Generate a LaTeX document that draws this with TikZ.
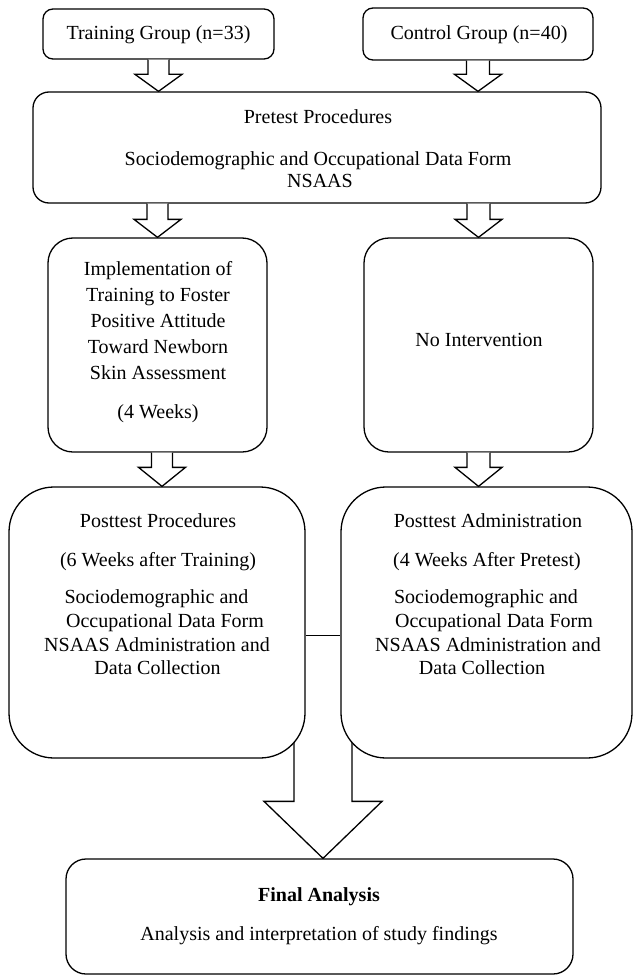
\documentclass[tikz,border=0pt]{standalone}
\usepackage{fontspec}
\setmainfont{Liberation Serif}
\usetikzlibrary{calc,backgrounds}
\tikzset{blk/.style={draw=black,fill=white,line width=1.3pt}}
\newcommand{\blkarrow}[5]{%
  \path[blk] let \p1=(#1), \p2=(#2) in
   (\x2-#3pt,\y1) -- (\x2-#3pt,\y2+#5pt) -- (\x2-#4pt,\y2+#5pt) -- (\x2,\y2)
   -- (\x2+#4pt,\y2+#5pt) -- (\x2+#3pt,\y2+#5pt) -- (\x2+#3pt,\y1);
}
\begin{document}
\begin{tikzpicture}[x=1pt,y=-1pt,line width=1.3pt,
  box/.style={draw,fill=white,inner sep=0pt,rounded corners=#1},
  txt/.style={anchor=base,inner sep=0pt,font=\fontsize{20}{24}\selectfont},
]
\useasboundingbox (0,0) rectangle (633,979);
% boxes
\node[box=10pt,minimum width=231pt,minimum height=50pt] (tr) at (158.5,34) {};
\node[box=10pt,minimum width=230pt,minimum height=52pt] (ctrl) at (478,34) {};
\node[box=16pt,minimum width=568pt,minimum height=111pt] (pre) at (317,147.5) {};
\node[box=25pt,minimum width=219pt,minimum height=214pt] (imp) at (157.5,345) {};
\node[box=25pt,minimum width=229pt,minimum height=214pt] (noint) at (478.5,345) {};
\node[box=45pt,minimum width=296pt,minimum height=271pt] (pp) at (157,622.5) {};
\node[box=45pt,minimum width=291pt,minimum height=271pt] (pa) at (486.5,622.5) {};
\node[box=20pt,minimum width=507pt,minimum height=115pt] (fin) at (319.5,916.5) {};
% texts
\node[txt] (trt) at (158.5,39.5) {Training Group (n=33)};
\node[txt] (ctrlt) at (479,39.5) {Control Group (n=40)};
\node[txt] (pret1) at (318,124) {Pretest Procedures};
\node[txt] (pret2) at (318,165) {Sociodemographic and Occupational Data Form};
\node[txt] (pret3) at (320,187) {NSAAS};
\node[txt] (impt1) at (158,275) {Implementation of};
\node[txt] (impt2) at (158,301) {Training to Foster};
\node[txt] (impt3) at (158,327) {Positive Attitude};
\node[txt] (impt4) at (158,353) {Toward Newborn};
\node[txt] (impt5) at (158,379) {Skin Assessment};
\node[txt] (impt6) at (158,418) {(4 Weeks)};
\node[txt] (nointt) at (479,346) {No Intervention};
\node[txt] (ppt1) at (158,527) {Posttest Procedures};
\node[txt] (ppt2) at (158,566) {(6 Weeks after Training)};
\node[txt] (ppt3) at (156.5,603) {Sociodemographic and};
\node[txt] (ppt4) at (165,627) {Occupational Data Form};
\node[txt] (ppt5) at (157,651) {NSAAS Administration and};
\node[txt] (ppt6) at (157.5,674) {Data Collection};
\node[txt] (pat1) at (488,527) {Posttest Administration};
\node[txt] (pat2) at (487,566) {(4 Weeks After Pretest)};
\node[txt] (pat3) at (486,603) {Sociodemographic and};
\node[txt] (pat4) at (494,627) {Occupational Data Form};
\node[txt] (pat5) at (488,651) {NSAAS Administration and};
\node[txt] (pat6) at (482,674) {Data Collection};
\node[txt,font=\fontsize{20}{24}\selectfont\bfseries] (fint1) at (319,901) {Final Analysis};
\node[txt] (fint2) at (319,940) {Analysis and interpretation of study findings};
% block arrows
\blkarrow{tr.south}{tr.south |- pre.north}{10.5}{23.5}{17}
\blkarrow{ctrl.south}{ctrl.south |- pre.north}{11.5}{23.5}{17}
\blkarrow{imp.north |- pre.south}{imp.north}{10.5}{23.5}{18}
\blkarrow{noint.north |- pre.south}{noint.north}{11.5}{23.5}{18}
\coordinate (a5) at ($(imp.south)+(4.5,0)$);
\blkarrow{a5}{a5 |- pp.north}{10.5}{23.5}{19}
\blkarrow{noint.south}{noint.south |- pa.north}{11.5}{23.5}{19}
% big merge arrow behind the posttest boxes
\coordinate (mid) at ($(pp.east)!0.5!(pa.west)$);
\begin{pgfonlayer}{background}
\blkarrow{mid}{mid |- fin.north}{29}{59}{57}
\end{pgfonlayer}
% connector between posttest boxes
\coordinate (cl) at (323,635);
\draw (cl -| pp.east) -- (cl -| pa.west);
\end{tikzpicture}
\end{document}
